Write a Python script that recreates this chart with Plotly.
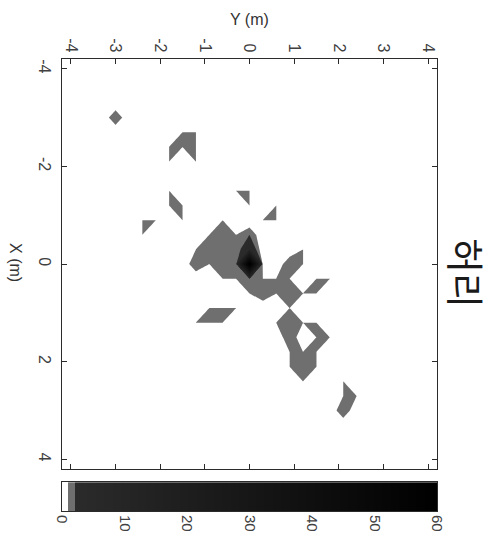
import numpy as np
import plotly.graph_objects as go

# ---- data: measurement grid (0.3 m spacing), non-zero cells ----
grid_start = -4.2
grid_step = 0.3
grid_n = 29

# Y position (m), X position (m), value  (all other grid cells are 0)
pt_y = [-3.0,
        -1.5, -1.2, -1.8, -1.5, -1.2, -1.8, -1.2,
        -1.8, -1.8, -1.5, -1.5,
        -2.4, -2.1, -2.4,
        -0.3, 0.0, 0.0,
        0.6, 0.6, 0.3,
        -0.6,
        -0.9, -0.6, -0.3, 0.0,
        -1.2, -0.9, -0.6, -0.3, 0.0,
        -1.2, -0.9, -0.6, -0.3, 0.0,
        -0.6, -0.3, 0.0, 0.3, 0.6, 0.9,
        0.0, 0.3, 0.6, 0.9, 1.2,
        0.9, 1.2, 1.2,
        -0.3, 0.9,
        -0.9, -0.6, -1.2, -0.9, -0.6,
        1.5, 1.8, 1.5,
        0.6, 0.9, 1.2, 1.5, 0.9, 1.5, 1.8, 0.9, 1.2, 1.5, 0.9, 1.2, 1.5, 1.2,
        2.1, 2.1, 2.4, 2.1]
pt_x = [-3.0,
        -2.7, -2.7, -2.4, -2.4, -2.4, -2.1, -2.1,
        -1.5, -1.2, -1.2, -0.9,
        -0.9, -0.9, -0.6,
        -1.5, -1.5, -1.2,
        -1.2, -0.9, -0.9,
        -0.9,
        -0.6, -0.6, -0.6, -0.6,
        -0.3, -0.3, -0.3, -0.3, -0.3,
        0.0, 0.0, 0.0, 0.0, 0.0,
        0.3, 0.3, 0.3, 0.3, 0.3, 0.3,
        0.6, 0.6, 0.6, 0.6, 0.6,
        0.0, 0.0, -0.3,
        0.9, 0.9,
        0.9, 0.9, 1.2, 1.2, 1.2,
        0.3, 0.3, 0.6,
        1.2, 1.2, 1.2, 1.2, 1.5, 1.5, 1.5, 1.8, 1.8, 1.8, 2.1, 2.1, 2.1, 2.4,
        2.4, 2.7, 2.7, 3.0]
pt_v = [2,
        1, 1, 1, 1, 1, 1, 1,
        1, 1, 1, 1,
        1, 1, 1,
        1, 1, 1,
        1, 1, 1,
        1,
        1, 1, 1, 2,
        1, 2, 1, 1, 4,
        2, 1, 1, 1, 60,
        1, 1, 2, 1, 1, 1,
        1, 2, 1, 1, 1,
        2, 1, 1,
        1, 1,
        1, 1, 1, 1, 1,
        1, 1, 1,
        1, 1, 1, 1, 2, 1, 1, 1, 1, 1, 1, 1, 1, 1,
        1, 1, 1, 2]

cbar_min, cbar_max = 0, 60
cbar_ticks = [0, 10, 20, 30, 40, 50, 60]
y_ticks = [-4, -3, -2, -1, 0, 1, 2, 3, 4]
x_ticks = [-4, -2, 0, 2, 4]
title_text = "허리"

# ---- build grid ----
axis_vals = np.round(grid_start + grid_step * np.arange(grid_n), 2)
Z = np.zeros((grid_n, grid_n))
for yy, xx, vv in zip(pt_y, pt_x, pt_v):
    j = int(round((yy - grid_start) / grid_step))
    i = int(round((xx - grid_start) / grid_step))
    Z[i, j] = vv

WHITE, GRAY, DARK = "#ffffff", "#6f6f6f", "#2b2b2b"
n_lv = cbar_max
fill_scale = [[0, WHITE], [0.5 / n_lv, WHITE], [0.5 / n_lv, GRAY],
              [1.5 / n_lv, GRAY], [1.5 / n_lv, DARK], [1, "#000000"]]
bar_scale = [[0, WHITE], [1 / n_lv, WHITE], [1 / n_lv, GRAY],
             [2 / n_lv, GRAY], [2 / n_lv, DARK], [1, "#000000"]]

FONT = "Liberation Sans, Arial, sans-serif"
fig = go.Figure()
fig.add_trace(go.Contour(
    x=axis_vals, y=axis_vals, z=Z,
    contours=dict(start=0.999, end=cbar_max - 0.001, size=1,
                  coloring="fill", showlines=False),
    line=dict(width=0, smoothing=0),
    colorscale=fill_scale, showscale=False, hoverinfo="skip",
))

cb_x = np.arange(cbar_min, cbar_max, 0.1) + 0.05
fig.add_trace(go.Heatmap(
    x=cb_x, y=[0], z=[cb_x], xaxis="x2", yaxis="y2",
    colorscale=bar_scale, zmin=cbar_min, zmax=cbar_max,
    showscale=False, hoverinfo="skip",
))

W, H = 498, 544
L, R, T, B = 62, 61, 59, 31
pw = W - L - R
ph = H - T - B
main_bottom = (513 - 471) / ph
cb_top = (513 - 484) / ph

axis_common = dict(showline=True, linecolor="#2b2b2b", linewidth=1,
                   mirror="ticks", ticks="inside", ticklen=5,
                   tickcolor="#2b2b2b", zeroline=False,
                   showgrid=True, gridcolor="#e0e0e0", gridwidth=1,
                   tickfont=dict(family=FONT, size=16, color="#404040"),
                   tickangle=90)

fig.update_layout(
    width=W, height=H,
    margin=dict(l=L, r=R, t=T, b=B),
    paper_bgcolor="white", plot_bgcolor="white",
    showlegend=False,
    xaxis=dict(domain=[0, 1], anchor="y", side="top",
               range=[-4.2, 4.2], tickvals=y_ticks,
               ticktext=[str(v) for v in y_ticks], **axis_common),
    yaxis=dict(domain=[main_bottom, 1], anchor="x",
               range=[4.2, -4.2], tickvals=x_ticks,
               ticktext=[str(v) for v in x_ticks], ticklabelstandoff=3,
               **axis_common),
    xaxis2=dict(domain=[0, 1], anchor="y2", range=[cbar_min, cbar_max],
                tickvals=cbar_ticks, ticktext=[str(v) for v in cbar_ticks],
                tickangle=90, showgrid=False,
                showline=True, mirror=True, linecolor="#2b2b2b",
                ticks="", zeroline=False,
                tickfont=dict(family=FONT, size=15, color="#404040")),
    yaxis2=dict(domain=[0, cb_top], anchor="x2", range=[-0.5, 0.5],
                showticklabels=False, showgrid=False, showline=True,
                mirror=True, linecolor="#2b2b2b", ticks="", zeroline=False),
    annotations=[
        dict(text="Y (m)", xref="paper", yref="paper",
             x=(249 - L) / pw, y=(513 - 19) / ph,
             showarrow=False, xanchor="center", yanchor="middle",
             font=dict(family=FONT, size=16, color="#333333")),
        dict(text="X (m)", xref="paper", yref="paper",
             x=(16 - L) / pw, y=(513 - 263) / ph, textangle=90,
             showarrow=False, xanchor="center", yanchor="middle",
             font=dict(family=FONT, size=16, color="#333333")),
        dict(text=title_text, xref="paper", yref="paper",
             x=(468 - L) / pw, y=(513 - 274) / ph, textangle=90,
             showarrow=False, xanchor="center", yanchor="middle",
             font=dict(family="Noto Sans CJK KR", size=38, color="#1a1a1a")),
    ],
)

fig.write_html("out.html")
